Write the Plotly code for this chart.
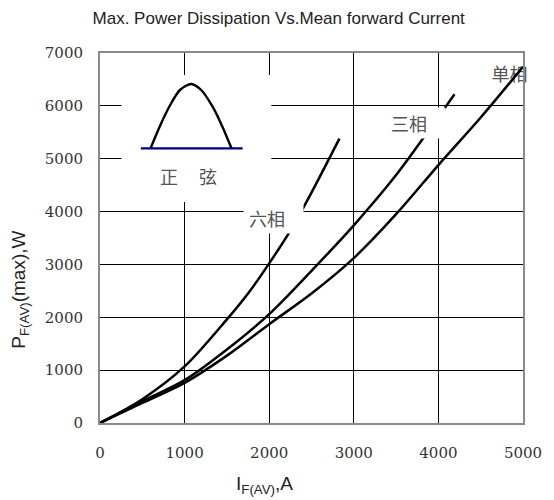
import plotly.graph_objects as go

# ---- data ----
x_single = [0, 500, 1000, 1500, 2000, 2500, 3000, 3500, 4000, 4500, 5000]
y_single = [0, 380, 760, 1275, 1870, 2450, 3120, 3950, 4880, 5780, 6740]

x_three = [0, 500, 1000, 1500, 2000, 2500, 3000, 3500, 4000, 4190]
y_three = [0, 410, 810, 1390, 2060, 2880, 3740, 4690, 5790, 6220]

x_six = [0, 500, 1000, 1500, 1750, 2000, 2250, 2500, 2830]
y_six = [0, 450, 1070, 1960, 2450, 3020, 3640, 4360, 5380]

x_ticks = [0, 1000, 2000, 3000, 4000, 5000]
y_ticks = [0, 1000, 2000, 3000, 4000, 5000, 6000, 7000]

# inset pictogram (half sine wave on a baseline), in inset units
inset_wave_x = [29.7, 39.7, 49.7, 59.7, 71.3, 81.3, 93.0, 103.0, 112.3]
inset_wave_y = [53.7, 77.0, 97.0, 112.0, 118.0, 112.0, 95.3, 75.3, 53.7]
inset_base_x = [19.7, 123.7]
inset_base_y = [53.7, 53.7]

W, H = 554, 500
L, R, T, B = 100, 22, 53, 77

fig = go.Figure()

# label drawn under the curve (curve passes over it)
fig.add_trace(go.Scatter(x=[4840], y=[6555], mode="text", text=["单相"], cliponaxis=False,
                         textfont=dict(family="Noto Sans CJK SC", size=18, color="#555555"),
                         showlegend=False, hoverinfo="skip"))

line = dict(color="black", width=2.5, shape="spline", smoothing=0.9)
fig.add_trace(go.Scatter(x=x_single, y=y_single, mode="lines", line=line, showlegend=False))
fig.add_trace(go.Scatter(x=x_three, y=y_three, mode="lines", line=line, showlegend=False))
fig.add_trace(go.Scatter(x=x_six, y=y_six, mode="lines", line=line, showlegend=False))

# inset
fig.add_trace(go.Scatter(x=inset_base_x, y=inset_base_y, mode="lines",
                         line=dict(color="#000080", width=2.2), xaxis="x2", yaxis="y2",
                         showlegend=False))
fig.add_trace(go.Scatter(x=inset_wave_x, y=inset_wave_y, mode="lines",
                         line=dict(color="black", width=2.4, shape="spline", smoothing=0.8),
                         xaxis="x2", yaxis="y2", showlegend=False))

tick_font = dict(family="DejaVu Serif", size=15, color="#333333")
axis_common = dict(showgrid=True, gridcolor="black", gridwidth=1,
                   showline=True, linecolor="#8a8a8a", linewidth=2, mirror=True,
                   zeroline=False, ticks="", tickfont=tick_font)

fig.update_layout(
    width=W, height=H,
    margin=dict(l=L, r=R, t=T, b=B),
    paper_bgcolor="white", plot_bgcolor="white",
    xaxis=dict(range=[0, 5000], tickvals=x_ticks, ticklabelstandoff=15, **axis_common),
    yaxis=dict(range=[0, 7000], tickvals=y_ticks, ticklabelstandoff=12, **axis_common),
    xaxis2=dict(domain=[22 / 432, 175 / 432], range=[0, 153], visible=False,
                showgrid=False, zeroline=False, anchor="y2", fixedrange=True),
    yaxis2=dict(domain=[221 / 370, 348 / 370], range=[0, 127], visible=False,
                showgrid=False, zeroline=False, anchor="x2", fixedrange=True),
    title=dict(text="Max. Power Dissipation Vs.Mean forward Current",
               font=dict(family="Liberation Sans", size=17, color="#222222"),
               x=(282.5 - L) / 432, xref="paper", xanchor="center",
               y=1 - 18 / H, yref="container", yanchor="middle"),
    showlegend=False,
)

cjk = dict(family="Noto Sans CJK SC", size=18, color="#555555")
fig.add_annotation(x=2049, y=3888, xref="x", yref="y", text="六相", showarrow=False,
                   bgcolor="white", font=cjk, width=49, height=21, borderpad=5, align="left")
fig.add_annotation(x=3657, y=5675, xref="x", yref="y", text="三相", showarrow=False,
                   bgcolor="white", font=cjk, width=72, height=30, borderpad=0, align="center")
fig.add_annotation(x=48.8, y=26.5, xref="x2", yref="y2", text="正", showarrow=False, font=cjk)
fig.add_annotation(x=88.8, y=26.5, xref="x2", yref="y2", text="弦", showarrow=False, font=cjk)

# axis titles
fig.add_annotation(x=(268 - L) / 432, y=(423 - 485) / 370, xref="paper", yref="paper",
                   xanchor="center", yanchor="middle",
                   text="I<sub>F(AV)</sub>,A", showarrow=False,
                   font=dict(family="Liberation Sans", size=19, color="#222222"))
fig.add_annotation(x=(18 - L) / 432, y=(423 - 290) / 370, xref="paper", yref="paper",
                   xanchor="center", yanchor="middle",
                   text="P<sub>F(AV)</sub>(max),W", showarrow=False, textangle=-90,
                   font=dict(family="Liberation Sans", size=19, color="#222222"))

fig.write_html("out.html")
